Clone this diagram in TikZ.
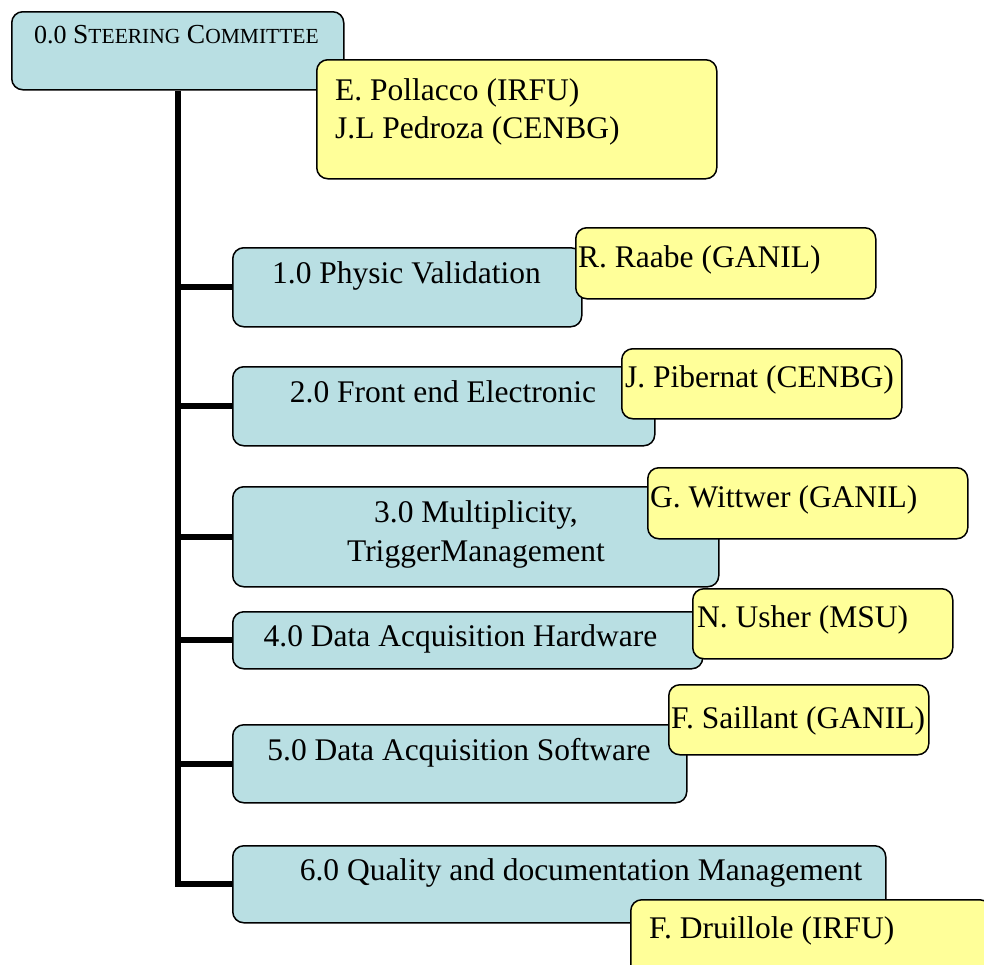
\documentclass[tikz,border=0pt]{standalone}
\usepackage{fontspec}
\setmainfont{Liberation Serif}
\usetikzlibrary{backgrounds}
\definecolor{boxblue}{HTML}{B9DFE3}
\definecolor{boxyellow}{HTML}{FFFF99}
\newcommand\scBig[1]{{\fontsize{27.5}{30}\selectfont #1}}
\newcommand\scSmall[1]{{\fontsize{21.5}{30}\selectfont #1}}
\tikzset{
  bbox/.style={draw=black, line width=1.5pt, fill=boxblue, rounded corners=11pt, inner sep=0pt, anchor=north west},
  ybox/.style={draw=black, line width=1.5pt, fill=boxyellow, rounded corners=11pt, inner sep=0pt, anchor=north west},
  lbl/.style={font=\fontsize{31.5}{36}\selectfont, inner sep=0pt, anchor=base west},
  trunk/.style={line width=6pt},
}
\begin{document}
\begin{tikzpicture}[x=1pt,y=-1pt]
\useasboundingbox (0,0) rectangle (984,964);
\clip (0,0) rectangle (984,964);
% boxes
\node[bbox, minimum width=332, minimum height=78] (steer) at (11,11) {};
\node[bbox, minimum width=349, minimum height=79] (b1) at (232,247) {};
\node[bbox, minimum width=422, minimum height=79] (b2) at (232,366) {};
\node[bbox, minimum width=486, minimum height=100] (b3) at (232,486) {};
\node[bbox, minimum width=470, minimum height=57] (b4) at (232,611) {};
\node[bbox, minimum width=454, minimum height=78] (b5) at (232,724) {};
\node[bbox, minimum width=653, minimum height=77] (b6) at (232,845) {};
% tree connectors
\begin{scope}[on background layer]
\draw[trunk] (steer.south) |- (b6.west);
\foreach \b in {b1,b2,b3,b4,b5}{
  \draw[trunk] (steer.south |- \b.west) -- (\b.west);
}
\end{scope}
% yellow boxes
\node[ybox, minimum width=400, minimum height=119] (p0) at (316,59) {};
\node[ybox, minimum width=300, minimum height=71] (p1) at (575,227) {};
\node[ybox, minimum width=280, minimum height=70] (p2) at (621,348) {};
\node[ybox, minimum width=320, minimum height=71] (p3) at (647,467) {};
\node[ybox, minimum width=260, minimum height=70] (p4) at (692,588) {};
\node[ybox, minimum width=260, minimum height=70] (p5) at (668,684) {};
\node[ybox, minimum width=360, minimum height=80] (p6) at (630,899) {};
% texts
\node[lbl, font=\fontsize{26}{30}\selectfont] (t0) at (34,43) {0.0 \scBig{S}\scSmall{TEERING} \scBig{C}\scSmall{OMMITTEE}};
\node[lbl, anchor=base] (t1) at (406.5,283) {1.0 Physic Validation};
\node[lbl, anchor=base] (t2) at (443,402) {2.0 Front end Electronic};
\node[lbl, anchor=base] (t3a) at (476,522) {3.0 Multiplicity,};
\node[lbl, anchor=base] (t3b) at (476,561) {TriggerManagement};
\node[lbl, anchor=base] (t4) at (460.5,646) {4.0 Data Acquisition Hardware};
\node[lbl, anchor=base] (t5) at (459,760) {5.0 Data Acquisition Software};
\node[lbl, anchor=base] (t6) at (581,880) {6.0 Quality and documentation Management};
\node[lbl] (q0a) at (335,100) {E. Pollacco (IRFU)};
\node[lbl] (q0b) at (335,138) {J.L Pedroza (CENBG)};
\node[lbl] (q1) at (578,267) {R. Raabe (GANIL)};
\node[lbl] (q2) at (625,387) {J. Pibernat (CENBG)};
\node[lbl] (q3) at (650,507) {G. Wittwer (GANIL)};
\node[lbl] (q4) at (697,627) {N. Usher (MSU)};
\node[lbl] (q5) at (671,728) {F. Saillant (GANIL)};
\node[lbl] (q6) at (649,938) {F. Druillole (IRFU)};
\end{tikzpicture}
\end{document}
